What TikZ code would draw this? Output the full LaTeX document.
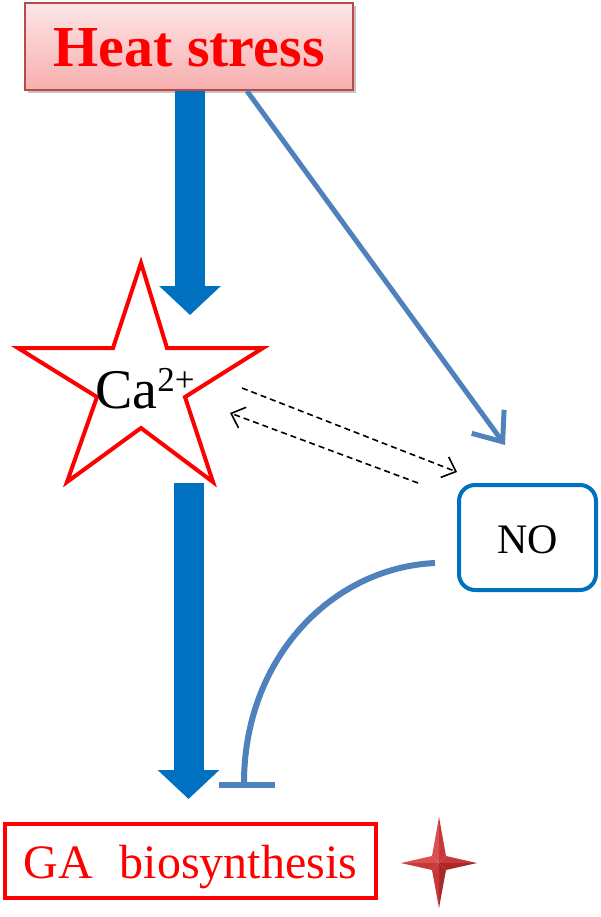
\documentclass[tikz,border=0pt]{standalone}
\usepackage{fontspec}
\setmainfont{Liberation Serif}
\usetikzlibrary{arrows.meta,shadows}
\definecolor{hsred}{HTML}{FF0000}
\definecolor{hsborder}{HTML}{B94A48}
\definecolor{bigblue}{HTML}{0070C0}
\definecolor{steel}{HTML}{4F81BD}
\definecolor{pinktop}{HTML}{FDE6E6}
\definecolor{pinkbot}{HTML}{F7AEAE}
\definecolor{sparklight}{HTML}{DA5050}
\definecolor{sparkmid}{HTML}{C73838}
\definecolor{sparkdark}{HTML}{A82828}
\begin{document}
\begin{tikzpicture}[x=1pt,y=-1pt,
  hsbox/.style={draw=hsborder, line width=2pt, top color=pinktop, bottom color=pinkbot,
    minimum width=328pt, minimum height=87pt, inner sep=0pt, text=hsred,
    font=\fontsize{58}{60}\selectfont\bfseries, text height=45pt, text depth=4pt,
    drop shadow={shadow xshift=3pt, shadow yshift=-3pt, fill=black!45, opacity=0.5}},
  nobox/.style={draw=bigblue, line width=4pt, rounded corners=16pt, fill=white,
    minimum width=137pt, minimum height=105pt, inner sep=0pt,
    font=\fontsize{42}{44}\selectfont, text height=35pt, text depth=4pt},
  gabox/.style={draw=hsred, line width=4pt, minimum width=371pt, minimum height=74pt,
    inner sep=0pt, text=hsred, font=\fontsize{48}{50}\selectfont,
    text height=42pt, text depth=8pt},
  bigarrow/.style={draw=bigblue, line width=30pt, -{Triangle[length=29pt,width=60pt]}},
  thinarrow/.style={draw=steel, line width=5pt, -{Straight Barb[length=25pt,width=40pt]}},
  dasharrow/.style={draw=black, line width=1.6pt, dash pattern=on 6pt off 4pt,
    -{Straight Barb[length=12pt,width=22pt,line width=1.6pt]}},
  inhib/.style={draw=steel, line width=6pt},
  starline/.style={draw=hsred, line width=4pt, line join=miter, fill=white}
]
\useasboundingbox (0,0) rectangle (600,917);

% nodes
\node[hsbox] (hs) at (189,46.5) {Heat stress};
\draw[starline] (141,263) -- (167,348) -- (263,348) -- (185,397) -- (213,482)
  -- (141,428) -- (67,482) -- (97,397) -- (18,348) -- (113,348) -- cycle;
\node[anchor=base, font=\fontsize{56}{60}\selectfont, inner sep=0pt] (ca) at (145,408)
  {Ca\raisebox{17pt}{\fontsize{35}{36}\selectfont 2+}};
\node[nobox] (no) at (527.5,537.5) {NO};
\node[gabox] (ga) at (190.5,861) {GA\hspace{0.55em}biosynthesis};

% coordinates for connector ends
\coordinate (t1) at (190,315);
\coordinate (s2) at (188.5,483);
\coordinate (t2) at (188.5,799);
\coordinate (na) at (247,91);
\coordinate (nb) at (505,445);
\coordinate (d1s) at (242,388);
\coordinate (d1e) at (457,472);
\coordinate (d2s) at (418,483);
\coordinate (d2e) at (230,413);
\coordinate (ib) at (435,563);
\coordinate (ie) at (244,783);
\coordinate (bl) at (219,785);
\coordinate (br) at (275,785);

% connectors
\draw[bigarrow] (hs.south -| t1) -- (t1);
\draw[bigarrow] (s2) -- (t2);
\draw[thinarrow] (na) -- (nb);
\draw[dasharrow] (d1s) -- (d1e);
\draw[dasharrow] (d2s) -- (d2e);
\draw[inhib] (ib) .. controls (330,568) and (244,660) .. (ie);
\draw[inhib] (bl) -- (br);

% four-point sparkle
\coordinate (c) at (439,863);
\coordinate (T) at (439,817);
\coordinate (B) at (439,908);
\coordinate (L) at (401,863);
\coordinate (R) at (477,863);
\coordinate (TL) at (432,856);
\coordinate (TR) at (446,856);
\coordinate (BL) at (432,870);
\coordinate (BR) at (446,870);
\fill[sparklight] (c) -- (T) -- (TL) -- cycle;
\fill[sparkmid] (c) -- (T) -- (TR) -- cycle;
\fill[sparkmid] (c) -- (R) -- (TR) -- cycle;
\fill[sparkdark] (c) -- (R) -- (BR) -- cycle;
\fill[sparkdark] (c) -- (B) -- (BR) -- cycle;
\fill[sparkmid] (c) -- (B) -- (BL) -- cycle;
\fill[sparkmid] (c) -- (L) -- (BL) -- cycle;
\fill[sparklight] (c) -- (L) -- (TL) -- cycle;
\end{tikzpicture}
\end{document}
